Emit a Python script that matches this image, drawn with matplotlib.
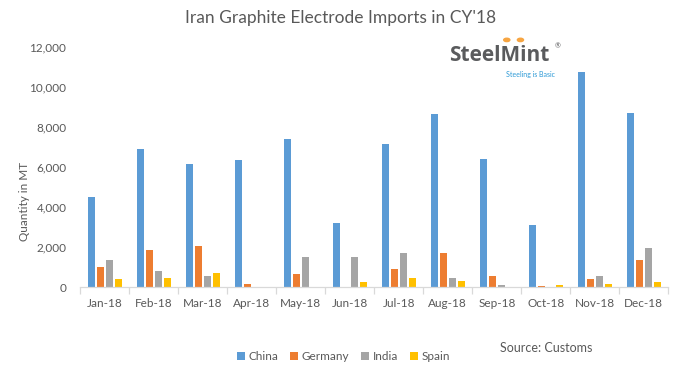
import numpy as np
import matplotlib
matplotlib.use("Agg")
import matplotlib.pyplot as plt
from matplotlib.patches import Circle

# ===============================
#  Data (MT)
# ===============================

months = ["Jan-18", "Feb-18", "Mar-18", "Apr-18", "May-18", "Jun-18",
          "Jul-18", "Aug-18", "Sep-18", "Oct-18", "Nov-18", "Dec-18"]
china = [4500, 6900, 6150, 6350, 7400, 3200, 7150, 8650, 6400, 3100, 10750, 8700]
germany = [1000, 1850, 2050, 150, 650, 0, 900, 1700, 550, 50, 400, 1350]
india = [1350, 800, 550, 0, 1500, 1500, 1700, 450, 100, 0, 550, 1950]
spain = [400, 450, 700, 0, 0, 250, 450, 300, 0, 100, 150, 250]

series_names = ["China", "Germany", "India", "Spain"]
series_colors = ["#5B9BD5", "#ED7D31", "#A5A5A5", "#FFC000"]

TEXT = "#595959"
FONT = "Lato"

plt.rcParams["font.family"] = [FONT, "DejaVu Sans"]

fig = plt.figure(figsize=(6.83, 3.73), dpi=100)
ax = fig.add_axes([0.1176, 0.2298, 0.8609, 0.644])

x = np.arange(len(months))
step = 0.186
width = 0.143
bars = []
for i, (vals, col) in enumerate(zip([china, germany, india, spain], series_colors)):
    b = ax.bar(x + (i - 1.5) * step, vals, width=width, color=col,
               label=series_names[i], zorder=2)
    bars.append(b)

ax.set_xlim(-0.5, len(months) - 0.5)
ax.set_ylim(0, 12000)
ax.set_yticks(range(0, 12001, 2000))
ax.set_yticklabels([f"{v:,}" for v in range(0, 12001, 2000)])
ax.set_xticks(x)
ax.set_xticklabels(months)
ax.set_xticks(np.arange(-0.5, len(months), 1.0), minor=True)

for s in ["top", "right", "left"]:
    ax.spines[s].set_visible(False)
ax.spines["bottom"].set_color("#D9D9D9")
ax.spines["bottom"].set_linewidth(0.9)

ax.tick_params(axis="x", which="major", length=0, pad=8, labelsize=8.5, labelcolor=TEXT)
ax.tick_params(axis="x", which="minor", length=5, color="#D9D9D9", width=0.9)
ax.tick_params(axis="y", length=0, pad=10, labelsize=8.5, labelcolor=TEXT)

fig.text(0.036, 0.46, "Quantity in MT", rotation=90, ha="center", va="center",
         fontsize=8.5, color=TEXT)

fig.text(0.498, 0.953, "Iran Graphite Electrode Imports in CY'18",
         ha="center", va="center", fontsize=12.5, color=TEXT)

leg = fig.legend(handles=bars, labels=series_names, loc="center",
                 bbox_to_anchor=(0.503, 0.043), ncol=4, frameon=False,
                 fontsize=8.5, handlelength=0.7, handleheight=0.7,
                 handletextpad=0.3, columnspacing=1.0)
for t in leg.get_texts():
    t.set_color(TEXT)

fig.text(0.732, 0.068, "Source: Customs", ha="left", va="center",
         fontsize=9, color=TEXT)

# SteelMint logo
fig.text(0.657, 0.85, "SteelMint", ha="left", va="center", family="Open Sans",
         fontsize=15, fontweight="bold", color="#5A5B5D")
fig.text(0.812, 0.878, "®", ha="left", va="center", fontsize=5, color="#5A5B5D")
fig.text(0.812, 0.8, "Steeling is Basic", ha="right", va="center",
         fontsize=5, color="#2E9AD6")
for cx in [0.742, 0.762]:
    fig.patches.append(Circle((cx, 0.893), 0.0045, transform=fig.transFigure,
                              color="#F7A541", figure=fig))

fig.savefig("out.png", dpi=100)
